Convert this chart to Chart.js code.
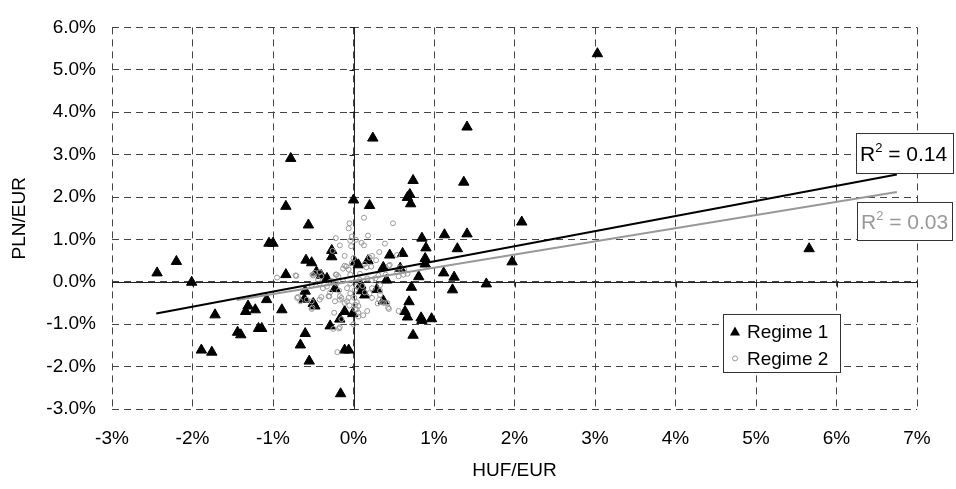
<!DOCTYPE html>
<html><head><meta charset="utf-8">
<script src="https://cdn.jsdelivr.net/npm/chart.js@4.4.1/dist/chart.umd.min.js"></script>
<style>html,body{margin:0;padding:0;background:#fff}#wrap{width:956px;height:489px;position:relative}</style>
</head><body><div id="wrap"><canvas id="c" width="956" height="489"></canvas></div>
<script>
// ---- data (percent) ----
const xTickValues = [-3,-2,-1,0,1,2,3,4,5,6,7];
const yTickValues = [-3,-2,-1,0,1,2,3,4,5,6];
const xTitle = 'HUF/EUR';
const yTitle = 'PLN/EUR';
const seriesNames = ['Regime 1','Regime 2'];
const r2Labels = ['0.14','0.03'];

const regime1 = [
 [-2.44,0.21],[-2.20,0.48],[-2.01,-0.01],[-1.72,-0.78],[-1.89,-1.61],[-1.76,-1.66],
 [-1.44,-1.19],[-1.40,-1.25],[-1.34,-0.70],[-1.31,-0.57],[-1.22,-0.66],[-1.18,-1.10],
 [-1.14,-1.10],[-1.08,-0.42],[-0.89,-0.66],[-0.78,2.91],[-0.84,1.78],[-0.56,1.34],
 [0.00,1.93],[-1.05,0.91],[-1.00,0.91],[0.20,1.80],[0.70,2.06],[0.67,1.99],[0.71,1.84],
 [0.74,2.39],[-0.27,0.74],[-0.27,0.59],[-0.59,0.51],[-0.52,0.45],[-0.46,0.23],[-0.40,0.15],
 [-0.33,0.08],[-0.84,0.17],[0.02,0.46],[0.06,0.40],[0.18,0.50],[0.45,0.63],[0.61,0.67],
 [0.85,1.03],[0.90,0.80],[0.89,0.55],[0.89,0.42],[1.13,1.11],[1.41,1.13],[1.29,0.78],
 [0.58,0.32],[0.37,0.34],[0.41,0.04],[0.81,0.12],[1.12,0.21],[1.25,0.11],[1.23,-0.19],
 [0.72,-0.13],[0.29,-0.18],[1.65,-0.05],[-0.60,-0.22],[-0.61,-0.41],[-0.23,-0.16],
 [0.09,-0.08],[0.10,-0.21],[0.14,-0.31],[0.37,-0.45],[0.69,-0.47],[0.64,-0.70],[0.67,-0.83],
 [0.84,-0.85],[0.85,-0.91],[0.97,-0.87],[0.74,-1.26],[-0.11,-0.70],[-0.01,-0.75],
 [-0.17,-0.88],[-0.29,-1.04],[-0.48,-0.57],[-0.50,-0.51],[-0.60,-1.22],[-0.66,-1.49],
 [-0.11,-1.61],[-0.06,-1.61],[-0.55,-1.87],[-0.16,-2.64],[0.24,3.39],[1.41,3.65],
 [1.37,2.35],[2.09,1.41],[1.97,0.47],[3.03,5.38],[5.66,0.78],[6.74,1.05]
];

const regime2 = [
 [-0.05,1.38],[-0.06,1.26],[0.13,1.51],[0.49,1.38],[-0.22,1.03],[-0.02,1.07],[-0.04,0.97],
 [0.03,0.99],[0.18,1.09],[-0.17,0.86],[-0.03,0.84],[0.10,0.92],[0.13,0.86],[0.39,0.90],
 [0.32,0.70],[-0.26,0.73],[0.00,0.56],[0.20,0.57],[0.28,0.51],[0.54,0.63],[-0.11,0.38],
 [-0.02,0.44],[0.14,0.42],[-0.13,0.31],[-0.06,0.29],[0.16,0.34],[0.22,0.36],[0.58,0.34],
 [0.63,0.28],[-0.42,0.23],[-0.50,0.15],[-0.40,0.13],[-0.22,0.17],[-0.19,0.13],[-0.04,0.17],
 [0.08,0.19],[0.31,0.15],[0.40,0.17],[0.56,0.13],[0.67,0.19],[-0.72,0.15],[0.45,0.40],
 [-0.51,0.17],[-0.48,0.21],[-0.69,-0.36],[-0.66,-0.46],[-0.58,-0.42],[-0.52,-0.46],
 [-0.51,-0.61],[-0.42,-0.42],[-0.40,-0.36],[-0.29,-0.25],[-0.23,-0.46],[-0.17,-0.42],
 [-0.24,-0.73],[-0.15,-0.88],[-0.17,-1.07],[-0.08,-0.15],[-0.04,-0.27],[-0.06,-0.38],
 [0.02,-0.19],[0.04,-0.48],[0.02,-0.65],[0.06,-0.82],[0.00,-1.00],[0.17,-0.69],[0.23,-0.15],
 [0.20,-0.27],[0.23,-0.38],[0.33,-0.08],[0.33,-0.21],[0.32,-0.42],[0.35,-0.48],[0.42,-0.50],
 [0.44,-0.64],[0.56,-0.69],[-0.04,-0.04],[-0.13,0.02],[0.08,0.04],[0.17,0.08],[0.27,0.08],
 [-0.27,0.02],[-0.42,-0.04],[-0.33,-0.11],[-0.52,-0.08],[-0.18,-0.21],[0.11,-0.10],
 [0.14,-0.25],[-0.25,-1.11],[-0.18,-1.10],[0.12,-0.79],[0.43,-0.61],[0.30,-0.51],[0.06,-0.57],
 [0.06,-0.73],[-0.11,-0.50],[-0.05,-0.56],[-0.17,-0.34],[0.01,-0.38],[0.04,-0.11],
 [-0.70,-0.38],[-0.52,-0.64],[-0.30,-0.34],[0.33,-0.31],[0.38,-0.50],[0.23,0.04],[-0.21,-0.04],
 [-0.95,0.10],[-0.71,0.14],[-0.20,-1.66],[0.62,0.17],[0.54,0.23],[0.44,0.38],[-0.44,0.04],
 [-0.29,0.00],[-0.21,0.17],[-0.09,0.36],[-0.11,0.61],[0.23,0.61],[-0.38,-0.15],[-0.31,-0.34],
 [-0.15,-0.38],[-0.08,-0.46],[0.02,-0.54],[0.04,-0.65]
];

// trend line end points
const trend1 = [[-2.45,-0.75],[6.75,2.53]];
const trend2 = [[-1.45,-0.43],[6.75,2.12]];

const toPts = a => a.map(p => ({x:p[0], y:p[1]}));
const FONT = 'Liberation Sans, Arial, sans-serif';

const deco = {
  id:'deco',
  beforeDatasetsDraw(chart){
    const {ctx, scales:{x,y}, chartArea:a} = chart;
    const x0 = Math.round(x.getPixelForValue(0))+0.5;
    const y0 = Math.round(y.getPixelForValue(0))+0.5;
    ctx.save();
    ctx.strokeStyle = '#222'; ctx.lineWidth = 1; ctx.setLineDash([]);
    ctx.beginPath();
    ctx.moveTo(a.left, y0); ctx.lineTo(a.right, y0);
    ctx.moveTo(x0, a.top); ctx.lineTo(x0, a.bottom);
    xTickValues.forEach(v => { const px = Math.round(x.getPixelForValue(v))+0.5; ctx.moveTo(px, y0); ctx.lineTo(px, y0+5); });
    yTickValues.forEach(v => { const py = Math.round(y.getPixelForValue(v))+0.5; ctx.moveTo(x0-5, py); ctx.lineTo(x0, py); });
    ctx.stroke();
    ctx.restore();
  },
  afterDraw(chart){
    const {ctx, chartArea:a} = chart;
    ctx.save();
    // R^2 boxes
    const boxes = [
      {l:a.right-61, t:a.top+106, w:97, h:40, col:'#000', txt:r2Labels[0]},
      {l:a.right-60, t:a.top+175, w:95, h:38, col:'#999', txt:r2Labels[1]}
    ];
    boxes.forEach(b => {
      ctx.fillStyle = '#fff'; ctx.fillRect(b.l, b.t, b.w, b.h);
      ctx.strokeStyle = '#333'; ctx.lineWidth = 1; ctx.setLineDash([]);
      ctx.strokeRect(Math.round(b.l)+0.5, Math.round(b.t)+0.5, b.w, b.h);
      ctx.fillStyle = b.col; ctx.textBaseline = 'alphabetic'; ctx.textAlign = 'left';
      const base = b.t + b.h/2 + 8;
      let xx = b.l + 4;
      ctx.font = '21px ' + FONT; ctx.fillText('R', xx, base); xx += ctx.measureText('R').width;
      ctx.font = '13px ' + FONT; ctx.fillText('2', xx, base - 9); xx += ctx.measureText('2').width;
      ctx.font = '21px ' + FONT; ctx.fillText(' = ' + b.txt, xx, base);
    });
    // legend
    const L = {l:a.right-194, t:a.top+287, w:117, h:58};
    ctx.fillStyle = '#fff'; ctx.fillRect(L.l, L.t, L.w, L.h);
    ctx.strokeStyle = '#333'; ctx.strokeRect(Math.round(L.l)+0.5, Math.round(L.t)+0.5, L.w, L.h);
    const mx = L.l + 12, tx = L.l + 24;
    const r1y = L.t + 17, r2y = L.t + 44;
    ctx.fillStyle = '#000';
    ctx.beginPath();
    ctx.moveTo(mx, r1y-5); ctx.lineTo(mx+5, r1y+4); ctx.lineTo(mx-5, r1y+4); ctx.closePath(); ctx.fill();
    ctx.strokeStyle = '#999'; ctx.lineWidth = 1;
    ctx.beginPath(); ctx.arc(mx, r2y, 2.5, 0, Math.PI*2); ctx.stroke();
    ctx.fillStyle = '#000'; ctx.font = '19px ' + FONT; ctx.textBaseline = 'middle';
    ctx.fillText(seriesNames[0], tx, r1y+1);
    ctx.fillText(seriesNames[1], tx, r2y+1);
    ctx.restore();
  }
};

new Chart(document.getElementById('c'), {
  type:'scatter',
  data:{datasets:[
    {type:'line', label:'trend1', data:toPts(trend1), borderColor:'#000', borderWidth:2, pointRadius:0, fill:false},
    {type:'line', label:'trend2', data:toPts(trend2), borderColor:'#999', borderWidth:2, pointRadius:0, fill:false},
    {label:seriesNames[1], data:toPts(regime2), pointStyle:'circle', pointRadius:2.5, borderColor:'#999', backgroundColor:'rgba(0,0,0,0)', borderWidth:1},
    {label:seriesNames[0], data:toPts(regime1), pointStyle:'triangle', pointRadius:6, borderColor:'#000', backgroundColor:'#000', borderWidth:1}
  ]},
  options:{
    responsive:false, animation:false, devicePixelRatio:1,
    layout:{padding:{top:17, right:39, left:0, bottom:0}},
    plugins:{legend:{display:false}, tooltip:{enabled:false}},
    scales:{
      x:{type:'linear', min:-3, max:7,
        afterBuildTicks(s){ s.ticks = xTickValues.map(v => ({value:v})); },
        afterFit(s){ s.height = 80; },
        ticks:{callback:v => v + '%', font:{family:FONT, size:19}, color:'#000', padding:18, maxRotation:0},
        grid:{color:'#444', lineWidth:1, drawTicks:false},
        border:{display:false, dash:[7,5]},
        title:{display:true, text:xTitle, font:{family:FONT, size:19}, color:'#000', padding:{top:0, bottom:7}}
      },
      y:{type:'linear', min:-3, max:6,
        afterBuildTicks(s){ s.ticks = yTickValues.map(v => ({value:v})); },
        afterFit(s){ s.width = 112; },
        ticks:{callback:v => v.toFixed(1) + '%', font:{family:FONT, size:19}, color:'#000', padding:16},
        grid:{color:'#444', lineWidth:1, drawTicks:false},
        border:{display:false, dash:[7,5]},
        title:{display:true, text:yTitle, font:{family:FONT, size:19}, color:'#000', padding:{top:8, bottom:0}}
      }
    }
  },
  plugins:[deco]
});
</script></body></html>
